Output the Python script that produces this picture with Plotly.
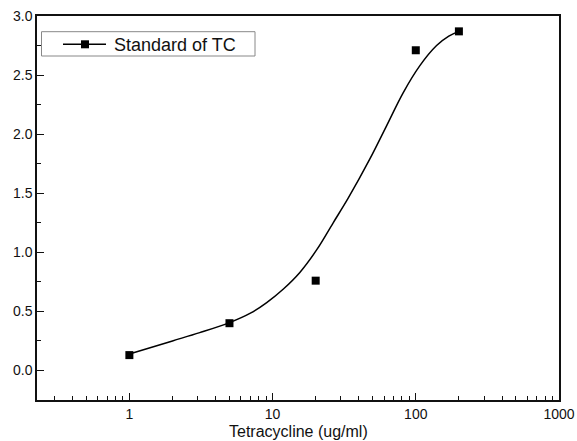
import plotly.graph_objects as go

# Measured standards (markers)
conc = [1, 5, 20, 100, 200]
absorb = [0.13, 0.40, 0.76, 2.71, 2.87]

# Fitted curve
fit_x = [1, 2, 3.1, 5, 7, 9.1, 11.9, 15.5, 20.3, 26.5, 33.8, 47.8, 62.5, 81.6, 106.8, 139.7, 170, 200]
fit_y = [0.14, 0.25, 0.32, 0.405, 0.485, 0.575, 0.69, 0.83, 1.02, 1.25, 1.46, 1.79, 2.07, 2.35, 2.58, 2.75, 2.83, 2.87]

x_ticks = [1, 10, 100, 1000]
x_tick_text = ["1", "10", "100", "1000"]
x_minor = [0.3, 0.4, 0.5, 0.6, 0.7, 0.8, 0.9,
           2, 3, 4, 5, 6, 7, 8, 9,
           20, 30, 40, 50, 60, 70, 80, 90,
           200, 300, 400, 500, 600, 700, 800, 900]
series_name = "Standard of TC"
x_title = "Tetracycline (ug/ml)"

FONT = "Arial, Liberation Sans, sans-serif"
W, H = 577, 441
ML, MR, MT, MB = 37, 18, 16, 41
PW, PH = W - ML - MR, H - MT - MB


def px_x(p):
    return (p - ML) / PW


def px_y(p):
    return (H - MB - p) / PH


fig = go.Figure()
fig.add_trace(go.Scatter(x=fit_x, y=fit_y, mode="lines",
                         line=dict(color="black", width=1.5, shape="spline", smoothing=1),
                         showlegend=False, hoverinfo="skip"))
fig.add_trace(go.Scatter(x=conc, y=absorb, mode="markers", name=series_name,
                         marker=dict(symbol="square", size=8, color="black"), showlegend=False))

# Legend drawn as a box like the original (line - square - line, then label)
legend_shapes = [
    dict(type="rect", xref="paper", yref="paper", x0=px_x(41.5), x1=px_x(255), y0=px_y(56), y1=px_y(31.7),
         line=dict(color="#888", width=1), fillcolor="white", layer="above"),
    dict(type="line", xref="paper", yref="paper", x0=px_x(63), x1=px_x(106), y0=px_y(44.3), y1=px_y(44.3),
         line=dict(color="black", width=1.5), layer="above"),
    dict(type="rect", xref="paper", yref="paper", x0=px_x(81), x1=px_x(89), y0=px_y(48.3), y1=px_y(40.3),
         line=dict(width=0), fillcolor="black", layer="above"),
]
fig.update_layout(shapes=legend_shapes)
fig.add_annotation(xref="paper", yref="paper", x=px_x(111.5), y=px_y(44.5), xanchor="left", yanchor="middle",
                   text=series_name, showarrow=False, font=dict(size=18, family=FONT, color="#111"))
# x-axis title
fig.add_annotation(xref="paper", yref="paper", x=0.5, y=px_y(431), xanchor="center", yanchor="middle",
                   text=x_title, showarrow=False, font=dict(size=16, family=FONT, color="#111"))

fig.update_layout(
    width=W, height=H,
    margin=dict(l=ML, r=MR, t=MT, b=MB, autoexpand=False),
    paper_bgcolor="white", plot_bgcolor="white",
    font=dict(family=FONT, size=14, color="#111"),
    showlegend=False,
)
fig.update_xaxes(type="log", range=[-0.645, 3], tickvals=x_ticks, ticktext=x_tick_text,
                 automargin=False,
                 ticks="inside", ticklen=7, tickwidth=1.2, tickcolor="#111",
                 showline=True, linecolor="#111", linewidth=1.5, mirror=True,
                 showgrid=False, zeroline=False,
                 minor=dict(ticks="inside", ticklen=4, tickwidth=1.2, tickcolor="#111", showgrid=False,
                            tickvals=x_minor),
                 tickfont=dict(size=14, family=FONT))
fig.update_yaxes(range=[-0.25, 3.0], dtick=0.5, tick0=0, tickformat=".1f",
                 automargin=False,
                 ticks="inside", ticklen=7, tickwidth=1.2, tickcolor="#111",
                 showline=True, linecolor="#111", linewidth=1.5, mirror=True,
                 showgrid=False, zeroline=False,
                 minor=dict(ticks="inside", ticklen=4, tickwidth=1.2, tickcolor="#111", dtick=0.25, showgrid=False),
                 tickfont=dict(size=14, family=FONT))

fig.write_html("out.html", config=dict(displayModeBar=False),
               post_script="document.body.style.margin='0';document.body.style.padding='0';document.body.style.overflow='hidden';")
